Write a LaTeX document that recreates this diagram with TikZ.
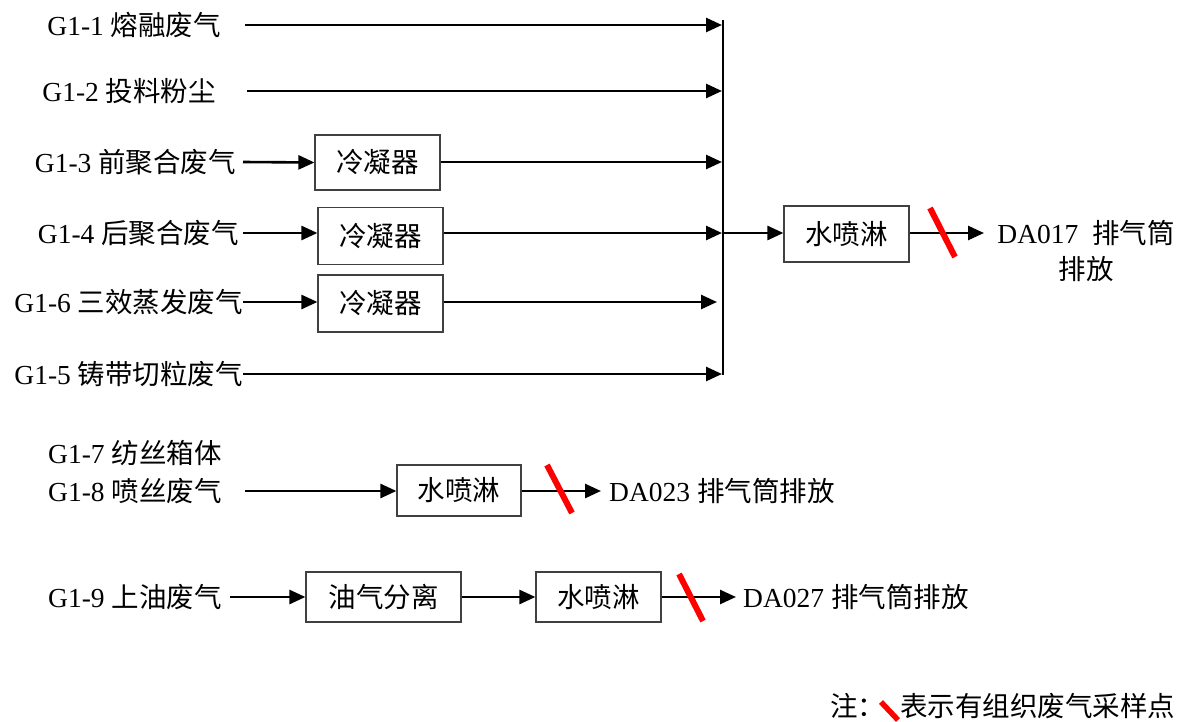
\documentclass[tikz,border=0pt]{standalone}
\usepackage{fontspec}
\setmainfont{Liberation Serif}
\newfontfamily\cjk{Noto Sans CJK SC}
\newcommand{\zh}[1]{{\cjk #1}}
\usetikzlibrary{arrows.meta}
\begin{document}
\begin{tikzpicture}[x=1pt,y=-1pt,
  every node/.style={font=\fontsize{27.5}{36}\selectfont},
  lbl/.style={inner sep=0pt},
  box/.style={draw=black!75, line width=1.2pt, inner sep=0pt},
  arr/.style={line width=2.6pt,-{Triangle[length=16pt,width=14pt]}},
  redmark/.style={draw=red, line width=6pt}]
\useasboundingbox (0,0) rectangle (1180,722);

% labels
\node[lbl, anchor=east] (g1) at (221,25) {G1-1 \zh{熔融废气}};
\node[lbl, anchor=east] (g2) at (216,91) {G1-2 \zh{投料粉尘}};
\node[lbl, anchor=east] (g3) at (236,162) {G1-3 \zh{前聚合废气}};
\node[lbl, anchor=east] (g4) at (239,233) {G1-4 \zh{后聚合废气}};
\node[lbl, anchor=east] (g6) at (243,302) {G1-6 \zh{三效蒸发废气}};
\node[lbl, anchor=east] (g5) at (243,374) {G1-5 \zh{铸带切粒废气}};
\node[lbl, anchor=west] (g7) at (48,453) {G1-7 \zh{纺丝箱体}};
\node[lbl, anchor=west] (g8) at (48,491) {G1-8 \zh{喷丝废气}};
\node[lbl, anchor=west] (g9) at (48,597) {G1-9 \zh{上油废气}};

% boxes
\node[box, minimum width=125pt, minimum height=55pt] (c3) at (377.5,162.5) {\zh{冷凝器}};
\node[box, minimum width=125pt, minimum height=57pt] (c4) at (380.5,236) {\zh{冷凝器}};
\node[box, minimum width=125pt, minimum height=57pt] (c6) at (380.5,303.5) {\zh{冷凝器}};
\node[box, minimum width=125pt, minimum height=56pt] (s1) at (846.5,234) {\zh{水喷淋}};
\node[box, minimum width=124pt, minimum height=51pt] (s2) at (459,490.5) {\zh{水喷淋}};
\node[box, minimum width=155pt, minimum height=50pt] (o1) at (383.5,597) {\zh{油气分离}};
\node[box, minimum width=125pt, minimum height=50pt] (s3) at (598.5,597) {\zh{水喷淋}};

% outlets
\node[lbl, align=center] (d17) at (1086,251) {DA017\ \ \zh{排气筒}\\\zh{排放}};
\node[lbl, anchor=west] (d23) at (609,491) {DA023 \zh{排气筒排放}};
\node[lbl, anchor=west] (d27) at (743,597) {DA027 \zh{排气筒排放}};

% bus
\coordinate (bt) at (723,20);
\coordinate (bb) at (723,375);
\draw[line width=1.8pt] (bt) -- (bb);
\coordinate (b1) at (722,25);
\coordinate (b2) at (722,91);
\coordinate (b3) at (722,162);
\coordinate (b4) at (722,233);
\coordinate (b6) at (717,302);
\coordinate (b5) at (722,374);
\coordinate (bo) at (723,233);

% row arrows
\coordinate (a1) at (245,25);
\coordinate (a2) at (247,91);
\draw[arr] (a1) -- (b1);
\draw[arr] (a2) -- (b2);
\draw[arr] (g3.east) ++(7,0) coordinate (a3) -- (c3.west);
\draw[arr] (c3.east |- b3) -- (b3);
\draw[arr] (g4.east) ++(4,0) coordinate (a4) -- (c4.west |- b4);
\draw[arr] (c4.east |- b4) -- (b4);
\draw[arr] (g6.east) -- (c6.west |- g6.east);
\draw[arr] (c6.east |- b6) -- (b6);
\draw[arr] (g5.east) -- (b5);

\draw[arr] (bo) -- (s1.west |- bo);
\coordinate (e17) at (984,233);
\draw[arr] (s1.east |- bo) -- (e17);

\coordinate (a8) at (245,491);
\draw[arr] (a8) -- (s2.west |- a8);
\coordinate (e23) at (601,491);
\draw[arr] (s2.east |- a8) -- (e23);

\coordinate (a9) at (230,597);
\draw[arr] (a9) -- (o1.west);
\draw[arr] (o1.east) -- (s3.west);
\coordinate (e27) at (736,597);
\draw[arr] (s3.east) -- (e27);

% sampling marks
\draw[redmark] (930,208) -- (955,257);
\draw[redmark] (547,465) -- (572,513);
\draw[redmark] (679,574) -- (703,621);

% note
\node[lbl, anchor=west] (n1) at (830,706) {\zh{注：}};
\draw[redmark, line width=5.5pt] (881,702) -- (898,720);
\node[lbl, anchor=west] (n2) at (900,706) {\zh{表示有组织废气采样点}};
\end{tikzpicture}
\end{document}
